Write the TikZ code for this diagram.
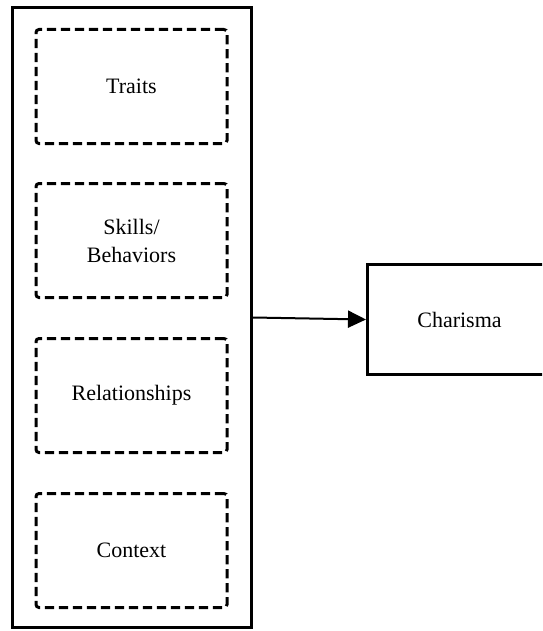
\documentclass[tikz,border=0pt]{standalone}
\usepackage{fontspec}
\setmainfont{Liberation Serif}
\usetikzlibrary{arrows.meta}

\tikzset{
  factor/.style={draw,line width=1.5pt,dash pattern=on 4.6pt off 2.4pt,rounded corners=1.5pt,
    minimum width=95.5pt,minimum height=57pt,align=center,inner sep=0pt},
  outcome/.style={draw,line width=1.5pt,minimum width=92pt,minimum height=55pt,inner sep=0pt}
}

\begin{document}
\begin{tikzpicture}[font=\fontsize{11}{14}\selectfont,x=.5pt,y=-.5pt]
  \path[use as bounding box,clip] (0,0) rectangle (542,631);
  \node[draw,line width=1.5pt,minimum width=119.5pt,minimum height=309.5pt] (frame) at (132,317.5) {};
  \node[factor] (traits) at (131.5,86.5) {Traits};
  \node[factor] (skills) at (131.5,240.5) {Skills/\\Behaviors};
  \node[factor] (relations) at (131.5,395.5) {Relationships};
  \node[factor] (context) at (131.5,550.5) {Context};
  \node[outcome] (charisma) at (459.5,319.5) {Charisma};
  \draw[line width=1pt,-{Triangle[length=9pt,width=8.5pt]}] (frame.east) -- (charisma.west);
\end{tikzpicture}
\end{document}
